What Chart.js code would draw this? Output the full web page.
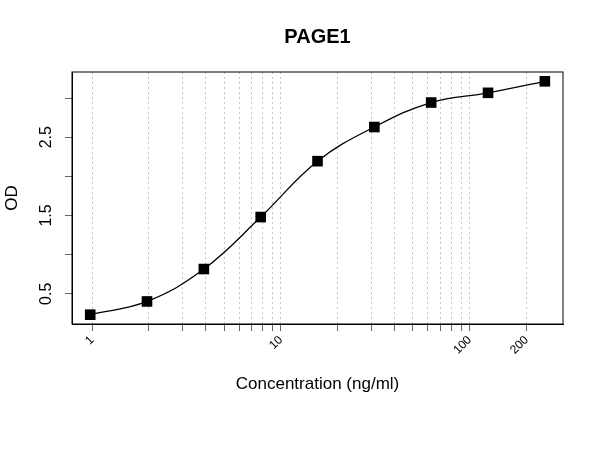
<!DOCTYPE html>
<html>
<head>
<meta charset="utf-8">
<title>PAGE1</title>
<script src="https://cdn.jsdelivr.net/npm/chart.js@4"></script>
<style>
    body { margin: 0; background: #fff; }
    #wrap { width: 600px; height: 450px; }
</style>
</head>
<body>
<div id="wrap"><canvas id="curveChart" width="600" height="450"></canvas></div>
<script>
// standard curve readings
const concentrations = [0.977, 1.953, 3.906, 7.813, 15.625, 31.25, 62.5, 125, 250];
const odValues = [0.233, 0.402, 0.816, 1.48, 2.194, 2.63, 2.943, 3.067, 3.214];

const xTickValues = [1, 2, 3, 4, 5, 6, 7, 8, 9, 10, 20, 30, 40, 50, 60, 70, 80, 90, 100, 200];
const xTickLabels = ['1', '10', '100', '200'];
const yTickValues = [0.5, 1, 1.5, 2, 2.5, 3];
const yTickLabels = ['0.5', '1.5', '2.5'];

Chart.defaults.font.family = "'Liberation Sans', Arial, sans-serif";
Chart.defaults.color = '#000';

// R-style closed box round the plot region
const boxPlugin = {
    id: 'box',
    afterDraw(chart) {
        const a = chart.chartArea;
        const ctx = chart.ctx;
        ctx.save();
        ctx.strokeStyle = '#000';
        ctx.lineWidth = 1;
        ctx.strokeRect(a.left, a.top, a.right - a.left, a.bottom - a.top);
        ctx.restore();
    }
};

function fixTicks(values) {
    return function(scale) {
        scale.ticks = values.map(v => ({ value: v }));
    };
}

new Chart(document.getElementById('curveChart').getContext('2d'), {
    type: 'line',
    data: {
        datasets: [{
            label: 'OD',
            data: concentrations.map((c, i) => ({ x: c, y: odValues[i] })),
            borderColor: '#000',
            borderWidth: 1.3,
            tension: 0.4,
            pointStyle: 'rect',
            pointRadius: 7.5,
            pointBackgroundColor: '#000',
            pointBorderColor: '#000',
            pointBorderWidth: 0,
            fill: false
        }]
    },
    options: {
        responsive: false,
        animation: false,
        layout: { padding: { left: 0, right: 37, top: 0, bottom: 0 } },
        plugins: {
            legend: { display: false },
            tooltip: { enabled: false },
            title: {
                display: true,
                text: 'PAGE1',
                fullSize: false,
                font: { size: 20, weight: 'bold' },
                color: '#000',
                padding: { top: 25, bottom: 23 }
            }
        },
        scales: {
            x: {
                type: 'logarithmic',
                min: 0.7824,
                max: 311.9,
                afterBuildTicks: fixTicks(xTickValues),
                afterFit: s => { s.height = 126; },
                ticks: {
                    autoSkip: false,
                    minRotation: 45,
                    maxRotation: 45,
                    font: { size: 12 },
                    padding: 2,
                    callback: v => xTickLabels.includes(String(v)) ? String(v) : ''
                },
                grid: {
                    color: '#c4c4c4',
                    lineWidth: 1,
                    drawTicks: true,
                    tickLength: 7,
                    tickColor: '#666',
                    tickBorderDash: []
                },
                border: { display: true, color: '#000', dash: [2, 3] },
                title: {
                    display: true,
                    text: 'Concentration (ng/ml)',
                    font: { size: 17 },
                    padding: { top: 0, bottom: 55 }
                }
            },
            y: {
                min: 0.114,
                max: 3.333,
                afterBuildTicks: fixTicks(yTickValues),
                afterFit: s => { s.width = 72; },
                ticks: {
                    autoSkip: false,
                    minRotation: 90,
                    maxRotation: 90,
                    crossAlign: 'center',
                    font: { size: 16 },
                    padding: 7,
                    callback: v => yTickLabels.includes(v.toFixed(1)) ? v.toFixed(1) : ''
                },
                grid: {
                    drawOnChartArea: false,
                    drawTicks: true,
                    tickLength: 7,
                    tickColor: '#666'
                },
                border: { display: true, color: '#000' },
                title: {
                    display: true,
                    text: 'OD',
                    font: { size: 17 },
                    padding: { top: 2, bottom: 0 }
                }
            }
        }
    },
    plugins: [boxPlugin]
});
</script>
</body>
</html>
